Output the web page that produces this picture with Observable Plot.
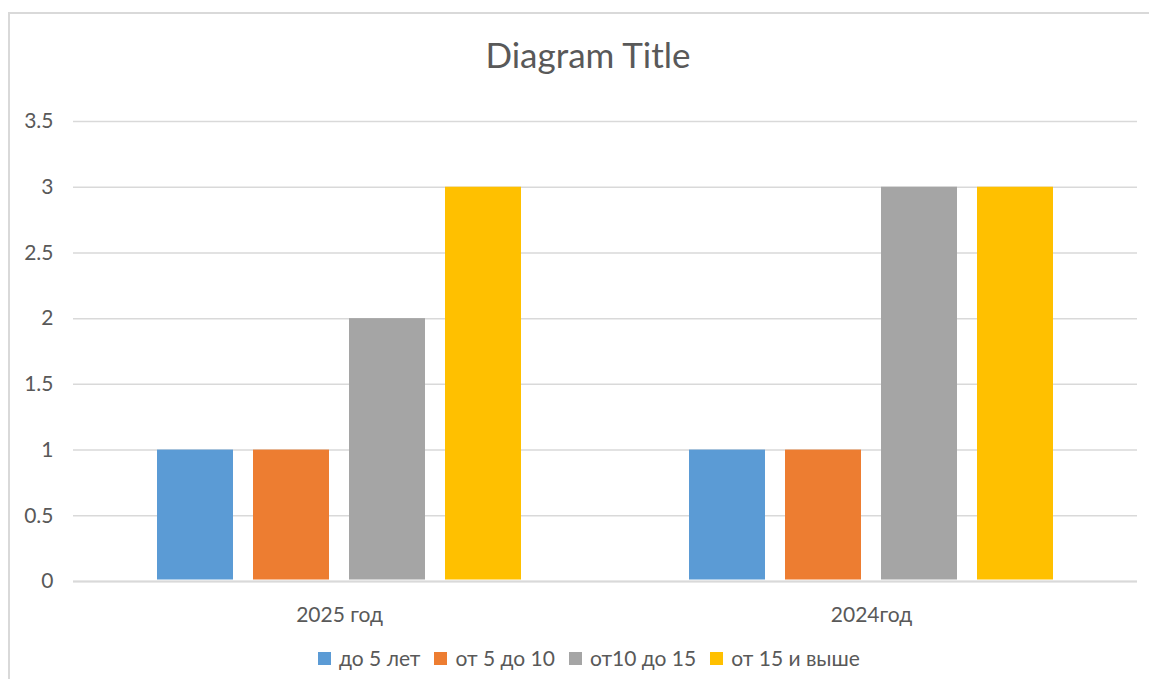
<!DOCTYPE html>
<html>
<head>
<meta charset="utf-8">
<script src="https://cdn.jsdelivr.net/npm/d3@7"></script>
<script src="https://cdn.jsdelivr.net/npm/@observablehq/plot@0.6"></script>
<style>
  html, body { margin: 0; padding: 0; background: #fff; overflow: hidden; }
  body { width: 1149px; height: 679px; position: relative; font-family: Lato, "Open Sans", sans-serif; color: #595959; }
  #frame { position: absolute; left: 8px; top: 12px; width: 1200px; height: 700px; border-left: 2px solid #d9d9d9; border-top: 2px solid #d9d9d9; box-sizing: border-box; }
  #title { position: absolute; left: 388px; width: 400px; top: 31px; text-align: center; font-size: 35px; line-height: 46px; color: #595959; }
  #chart { position: absolute; left: 0; top: 90px; }
  #legend { position: absolute; left: 318px; top: 646px; display: flex; align-items: center; font-size: 21px; line-height: 24px; color: #595959; }
  .item { display: flex; align-items: center; margin-right: 14px; }
  .sw { width: 13px; height: 13px; margin-right: 8px; }
</style>
</head>
<body>
<div id="frame"></div>
<div id="title">Diagram Title</div>
<div id="chart"></div>
<div id="legend"></div>
<script>
const categories = ["2025 год", "2024год"];
const series = ["до 5 лет", "от 5 до 10", "от10 до 15", "от 15 и выше"];
const values2025 = [1, 1, 2, 3];
const values2024 = [1, 1, 3, 3];
const colors = ["#5B9BD5", "#ED7D31", "#A5A5A5", "#FFC000"];
const yTicks = [0, 0.5, 1, 1.5, 2, 2.5, 3, 3.5];

const valuesByCategory = [values2025, values2024];
const data = [];
categories.forEach((c, i) => series.forEach((s, j) => data.push({year: c, series: s, value: valuesByCategory[i][j]})));

const plot = Plot.plot({
  width: 1149,
  height: 550,
  marginLeft: 73,
  marginRight: 12,
  marginTop: 31,
  marginBottom: 59,
  style: {fontFamily: "Lato, 'Open Sans', sans-serif", fontSize: "21px", color: "#595959", background: "transparent"},
  fx: {domain: categories, padding: 0, label: null, tickSize: 0, tickPadding: 26, axis: "bottom"},
  x: {domain: series, paddingInner: 0.21, paddingOuter: 0.87, axis: null},
  y: {domain: [0, 3.5], ticks: yTicks, tickSize: 0, tickPadding: 20, tickFormat: d => String(d), label: null},
  color: {domain: series, range: colors},
  marks: [
    Plot.ruleY(yTicks, {stroke: "#d9d9d9", strokeWidth: 1.5}),
    Plot.barY(data, {fx: "year", x: "series", y: "value", fill: "series", insetBottom: 1.5}),
    Plot.ruleY([0], {stroke: "#d9d9d9", strokeWidth: 2})
  ]
});
document.getElementById("chart").appendChild(plot);

const legend = document.getElementById("legend");
series.forEach((s, i) => {
  const item = document.createElement("div");
  item.className = "item";
  const sw = document.createElement("div");
  sw.className = "sw";
  sw.style.background = colors[i];
  const t = document.createElement("span");
  t.textContent = s;
  item.appendChild(sw);
  item.appendChild(t);
  legend.appendChild(item);
});
</script>
</body>
</html>
